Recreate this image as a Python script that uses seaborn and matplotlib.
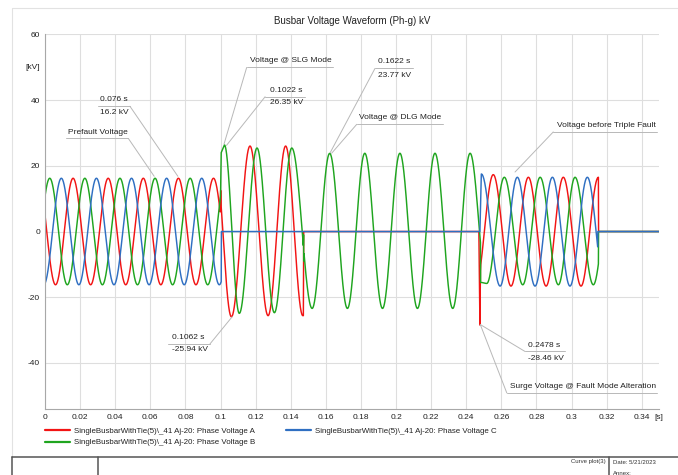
import numpy as np
import pandas as pd
import matplotlib
matplotlib.use("Agg")
import matplotlib.pyplot as plt
from matplotlib.lines import Line2D
import seaborn as sns

# ---------------- data (extrema of each wave piece) ----------------
LABEL_A = "SingleBusbarWithTie(5)\\_41 Aj-20: Phase Voltage A"
LABEL_B = "SingleBusbarWithTie(5)\\_41 Aj-20: Phase Voltage B"
LABEL_C = "SingleBusbarWithTie(5)\\_41 Aj-20: Phase Voltage C"

# Phase A (red)
A_PRE_T = [-0.004, 0.006, 0.016, 0.026, 0.036, 0.046, 0.056, 0.066, 0.076, 0.086, 0.096, 0.106]
A_PRE_V = [16.2, -16.2, 16.2, -16.2, 16.2, -16.2, 16.2, -16.2, 16.2, -16.2, 16.2, -16.2]
A_SPK1_T = [0.1001]
A_SPK1_V = [12.5]
A_SLG_T = [0.0964, 0.1062, 0.1168, 0.1271, 0.1371, 0.1469]
A_SLG_V = [26.0, -25.94, 26.0, -25.6, 26.0, -25.6]
A_OFF_T = [0.1474, 0.2472, 0.2478, 0.2481]
A_OFF_V = [0.0, 0.0, -28.46, -12.0]
A_TPL_T = [0.2454, 0.2554, 0.2655, 0.2754, 0.2855, 0.2953, 0.3054, 0.3153]
A_TPL_V = [-16.5, 17.3, -16.6, 16.5, -16.6, 16.5, -16.6, 16.5]
A_END_T = [0.3154, 0.35]
A_END_V = [0.0, 0.0]

# Phase B (green)
B_PRE_T = [-0.0073, 0.0027, 0.0127, 0.0227, 0.0327, 0.0427, 0.0527, 0.0627, 0.0727, 0.0827, 0.0927, 0.1027]
B_PRE_V = [-16.2, 16.2, -16.2, 16.2, -16.2, 16.2, -16.2, 16.2, -16.2, 16.2, -16.2, 16.2]
B_SPK1_T = [0.1004]
B_SPK1_V = [24.0]
B_SLG_T = [0.1022, 0.1107, 0.1208, 0.1307, 0.1406, 0.1522]
B_SLG_V = [26.35, -24.9, 25.4, -24.7, 25.4, -23.4]
B_SPK2_T = [0.1473, 0.1474]
B_SPK2_V = [-1.0, -9.0]
B_DLG_T = [0.1406, 0.1522, 0.1622, 0.1723, 0.1822, 0.1923, 0.2022, 0.2122, 0.2222, 0.2323, 0.2422, 0.2517]
B_DLG_V = [25.4, -23.4, 23.77, -23.4, 23.8, -23.4, 23.8, -23.4, 23.8, -23.4, 23.8, -15.8]
B_SPK3_T = [0.2482]
B_SPK3_V = [-15.5]
B_TPL_T = [0.2484, 0.2517, 0.2617, 0.2722, 0.2821, 0.2925, 0.3020, 0.3124, 0.3224]
B_TPL_V = [-15.5, -15.8, 16.5, -16.2, 16.5, -16.2, 16.5, -16.2, 16.5]
B_END_T = [0.3154, 0.35]
B_END_V = [0.0, 0.0]

# Phase C (blue)
C_PRE_T = [-0.0107, -0.0007, 0.0093, 0.0193, 0.0293, 0.0393, 0.0493, 0.0593, 0.0693, 0.0793, 0.0893, 0.0993, 0.1093]
C_PRE_V = [16.2, -16.2, 16.2, -16.2, 16.2, -16.2, 16.2, -16.2, 16.2, -16.2, 16.2, -16.2, 16.2]
C_OFF_T = [0.1005, 0.2478]
C_OFF_V = [0.0, 0.0]
C_TPL_T = [0.2486, 0.2593, 0.2691, 0.2792, 0.2891, 0.2991, 0.3090, 0.3190]
C_TPL_V = [17.5, -16.6, 16.5, -16.6, 16.5, -16.6, 16.5, -16.6]
C_END_T = [0.3150, 0.35]
C_END_V = [0.0, 0.0]

COLORS = {LABEL_A: "#f21414", LABEL_B: "#1fa51f", LABEL_C: "#2f6fc2"}
ZORDER = {LABEL_A: 2.1, LABEL_B: 2.2, LABEL_C: 2.3}


def ease(T, V, t):
    T = np.asarray(T, float)
    V = np.asarray(V, float)
    i = np.clip(np.searchsorted(T, t, side="right") - 1, 0, len(T) - 2)
    s = np.clip((t - T[i]) / (T[i + 1] - T[i]), 0, 1)
    return V[i] + (V[i + 1] - V[i]) * (1 - np.cos(np.pi * s)) / 2


def build(pieces):
    ts, vs = [], []
    for p in pieces:
        if p[0] == "wave":
            _, T, V, a, b = p
            t = np.linspace(a, b, max(int((b - a) / 0.00004), 2))
            ts.append(t)
            vs.append(ease(T, V, t))
        else:
            _, T, V = p
            ts.append(np.asarray(T, float))
            vs.append(np.asarray(V, float))
    return np.concatenate(ts), np.concatenate(vs)


tA, vA = build([("wave", A_PRE_T, A_PRE_V, 0.0, 0.0998),
                ("pts", A_SPK1_T, A_SPK1_V),
                ("wave", A_SLG_T, A_SLG_V, 0.1003, 0.1472),
                ("pts", A_OFF_T, A_OFF_V),
                ("wave", A_TPL_T, A_TPL_V, 0.2482, 0.3153),
                ("pts", A_END_T, A_END_V)])
tB, vB = build([("wave", B_PRE_T, B_PRE_V, 0.0, 0.1000),
                ("pts", B_SPK1_T, B_SPK1_V),
                ("wave", B_SLG_T, B_SLG_V, 0.1022, 0.1472),
                ("pts", B_SPK2_T, B_SPK2_V),
                ("wave", B_DLG_T, B_DLG_V, 0.1476, 0.2481),
                ("pts", B_SPK3_T, B_SPK3_V),
                ("wave", B_TPL_T, B_TPL_V, 0.2484, 0.3153),
                ("pts", B_END_T, B_END_V)])
tC, vC = build([("wave", C_PRE_T, C_PRE_V, 0.0, 0.1004),
                ("pts", C_OFF_T, C_OFF_V),
                ("wave", C_TPL_T, C_TPL_V, 0.2486, 0.3149),
                ("pts", C_END_T, C_END_V)])

df = pd.concat([
    pd.DataFrame({"Time": tA, "Voltage": vA, "Phase": LABEL_A}),
    pd.DataFrame({"Time": tB, "Voltage": vB, "Phase": LABEL_B}),
    pd.DataFrame({"Time": tC, "Voltage": vC, "Phase": LABEL_C}),
], ignore_index=True)

# ---------------- figure ----------------
sns.set_theme(style="white")
plt.rcParams["font.family"] = ["Liberation Sans", "DejaVu Sans"]

W, H = 678, 475
fig = plt.figure(figsize=(W / 100, H / 100), dpi=100)
fig.patch.set_facecolor("white")
ax = fig.add_axes([45 / W, 1 - 409 / H, (659.3 - 45) / W, (409 - 34.3) / H])
ax.set_facecolor("white")

for lab in [LABEL_A, LABEL_B, LABEL_C]:
    sns.lineplot(data=df[df["Phase"] == lab], x="Time", y="Voltage", color=COLORS[lab],
                 estimator=None, sort=False, linewidth=1.05, ax=ax, legend=False,
                 zorder=ZORDER[lab])

ax.set_xlim(0, 0.35)
ax.set_ylim(-54, 60)
ax.set_xlabel("")
ax.set_ylabel("")

xt = np.round(np.arange(0, 0.341, 0.02), 2)
ax.set_xticks(xt)
ax.set_xticklabels([f"{v:g}" for v in xt])
yt = [-40, -20, 0, 20, 40, 60]
ax.set_yticks(yt)
ax.set_yticklabels([f"{v:g}" for v in yt])
ax.set_xticks(np.round(np.arange(0.01, 0.35, 0.02), 2), minor=True)
ax.set_yticks([v for v in range(-50, 60, 5) if v % 20 != 0], minor=True)

ax.tick_params(axis="both", which="major", length=0, labelsize=6, colors="#222222", pad=3.6)
ax.tick_params(axis="both", which="minor", direction="in", length=3, width=0.6, color="#b0b0b0")
ax.grid(True, which="major", color="#dedede", linewidth=0.8)
ax.set_axisbelow(True)
for s in ["top", "right"]:
    ax.spines[s].set_visible(False)
for s in ["left", "bottom"]:
    ax.spines[s].set_color("#a8a8a8")
    ax.spines[s].set_linewidth(0.8)

ax.annotate("[kV]", xy=(0, 50), xycoords=("axes fraction", "data"), xytext=(-3.6, 0),
            textcoords="offset points", ha="right", va="center", fontsize=6, color="#222222")
ax.annotate("[s]", xy=(0.35, 0), xycoords=("data", "axes fraction"), xytext=(0, -3.6),
            textcoords="offset points", ha="center", va="top", fontsize=6, color="#222222")

# ---------------- callouts ----------------
LC = "#b8b8b8"
callouts = [
    (["Prefault Voltage"], 0.0133, [30.0], 28.3, 0.0120, 0.0475, "right", (0.0622, 16.8)),
    (["0.076 s", "16.2 kV"], 0.0313, [40.2, 36.2], 38.1, 0.0304, 0.0484, "right", (0.0757, 16.8)),
    (["Voltage @ SLG Mode"], 0.1168, [51.9], 49.9, 0.1149, 0.1641, "left", (0.1020, 26.6)),
    (["0.1022 s", "26.35 kV"], 0.1282, [43.0, 39.1], 41.0, 0.1254, 0.1481, "left", (0.1034, 26.2)),
    (["0.1062 s", "-25.94 kV"], 0.0724, [-32.2, -36.0], -34.2, 0.0703, 0.0940, "right", (0.1067, -25.9)),
    (["0.1622 s", "23.77 kV"], 0.1896, [51.6, 47.6], 49.6, 0.1880, 0.2095, "left", (0.1625, 24.0)),
    (["Voltage @ DLG Mode"], 0.1791, [34.6], 32.6, 0.1776, 0.2266, "left", (0.1633, 23.8)),
    (["Voltage before Triple Fault"], 0.2916, [32.3], 30.3, 0.2896, 0.3485, "left", (0.2678, 18.1)),
    (["0.2478 s", "-28.46 kV"], 0.2750, [-34.7, -38.7], -36.5, 0.2735, 0.2963, "left", (0.2480, -28.3)),
    (["Surge Voltage @ Fault Mode Alteration"], 0.2650, [-47.2], -49.1, 0.2631, 0.3485, "left", (0.2480, -28.3)),
]
for texts, tx, tys, uy, ux0, ux1, side, (px, py) in callouts:
    for txt, ty in zip(texts, tys):
        ax.text(tx, ty, txt, ha="left", va="center", fontsize=6, color="#222222", zorder=6)
    ax.plot([ux0, ux1], [uy, uy], color=LC, lw=0.7, clip_on=False, zorder=5)
    sx = ux1 if side == "right" else ux0
    ax.plot([sx, px], [uy, py], color=LC, lw=0.7, clip_on=False, zorder=5)

# ---------------- legend ----------------
labels = [LABEL_A, LABEL_B, LABEL_C]
hd = [Line2D([], [], color=COLORS[l], lw=1.6) for l in labels]
fig.legend(hd, labels, ncol=2, loc="upper left", bbox_to_anchor=(45 / W, 1 - 427 / H),
           frameon=False, fontsize=5.7, handlelength=3.2, handletextpad=0.45,
           columnspacing=3.9, labelspacing=0.55, borderpad=0, borderaxespad=0,
           labelcolor="#222222")

# ---------------- title & page frame ----------------
fig.text(352 / W, 1 - 21 / H, "Busbar Voltage Waveform (Ph-g) kV", ha="center", va="center",
         fontsize=7, color="#222222")


def fline(x0, y0, x1, y1, color, lw):
    fig.add_artist(Line2D([x0 / W, x1 / W], [1 - y0 / H, 1 - y1 / H], transform=fig.transFigure,
                          color=color, lw=lw))


fline(12, 8, W, 8, "#e2e2e2", 0.8)
fline(12, 8, 12, 457, "#e2e2e2", 0.8)
fline(12, 457, W, 457, "#555555", 1.1)
fline(12, 457, 12, H, "#555555", 1.1)
fline(98, 457, 98, H, "#555555", 1.1)
fline(609, 457, 609, H, "#555555", 1.1)

fig.text(606 / W, 1 - 462 / H, "Curve plot(3)", ha="right", va="center", fontsize=4.3, color="#333333")
fig.text(613 / W, 1 - 462 / H, "Date: 5/21/2023", ha="left", va="center", fontsize=4.3, color="#333333")
fig.text(613 / W, 1 - 473.5 / H, "Annex:", ha="left", va="center", fontsize=4.3, color="#333333")

fig.savefig("out.png", dpi=100, facecolor="white")
